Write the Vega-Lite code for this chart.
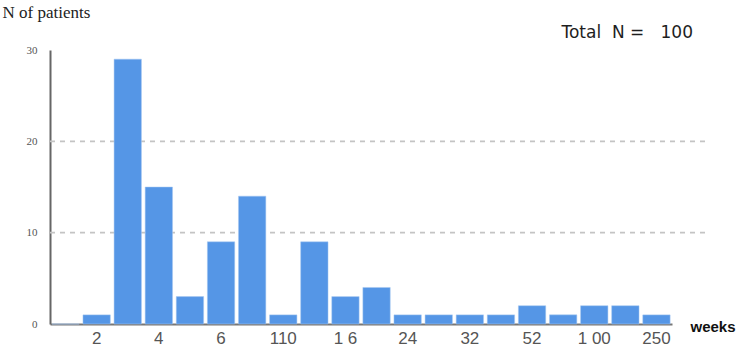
{
  "$schema": "https://vega.github.io/schema/vega-lite/v6.json",
  "width": 655,
  "height": 274,
  "autosize": {"type": "none"},
  "padding": {"left": 50, "top": 50, "right": 39, "bottom": 22},
  "background": "white",
  "title": {
    "text": "Total\u00a0 N =\u00a0\u00a0 100",
    "anchor": "end",
    "orient": "top",
    "frame": "group",
    "offset": 0,
    "dy": 39,
    "dx": -12,
    "font": "DejaVu Sans",
    "fontSize": 17,
    "fontWeight": "normal",
    "color": "#1e1e1e"
  },
  "layer": [
    {
      "data": {"values": [{"g": 10}, {"g": 20}]},
      "mark": {"type": "rule", "color": "#c4c4c4", "strokeDash": [5, 5], "strokeWidth": 1.6},
      "encoding": {
        "y": {"field": "g", "type": "quantitative"}
      }
    },
    {
      "data": {
        "values": [
          {"bin": 1, "count": 0},
          {"bin": 2, "count": 1},
          {"bin": 3, "count": 29},
          {"bin": 4, "count": 15},
          {"bin": 5, "count": 3},
          {"bin": 6, "count": 9},
          {"bin": 7, "count": 14},
          {"bin": 8, "count": 1},
          {"bin": 9, "count": 9},
          {"bin": 10, "count": 3},
          {"bin": 11, "count": 4},
          {"bin": 12, "count": 1},
          {"bin": 13, "count": 1},
          {"bin": 14, "count": 1},
          {"bin": 15, "count": 1},
          {"bin": 16, "count": 2},
          {"bin": 17, "count": 1},
          {"bin": 18, "count": 2},
          {"bin": 19, "count": 2},
          {"bin": 20, "count": 1}
        ]
      },
      "mark": {"type": "bar", "color": "#5596e6", "stroke": "#a9c8f0", "strokeWidth": 0.5},
      "encoding": {
        "x": {
          "field": "bin",
          "type": "ordinal",
          "sort": "ascending",
          "scale": {"range": [0, 622], "paddingInner": 0.12, "paddingOuter": 0.06},
          "axis": {
            "title": "weeks",
            "titleFont": "Liberation Sans",
            "titleFontSize": 15,
            "titleFontWeight": "bold",
            "titleColor": "#111111",
            "titleAnchor": "start",
            "titleAlign": "left",
            "titleBaseline": "middle",
            "titleX": 640,
            "titleY": 2,
            "labelAngle": 0,
            "labelFont": "Liberation Sans",
            "labelFontSize": 17,
            "labelColor": "#555555",
            "labelPadding": 6,
            "labelExpr": "{'2':'2','4':'4','6':'6','8':'110','10':'1 6','12':'24','14':'32','16':'52','18':'1 00','20':'250'}[datum.label] || ''",
            "ticks": false,
            "domainColor": "#777777",
            "domainWidth": 2
          }
        },
        "y": {
          "field": "count",
          "type": "quantitative",
          "scale": {"domain": [0, 30], "nice": false},
          "axis": {
            "values": [0, 10, 20, 30],
            "title": "N of patients",
            "titleAngle": 0,
            "titleAlign": "left",
            "titleBaseline": "middle",
            "titleX": -48,
            "titleY": -38,
            "titleFont": "Liberation Serif",
            "titleFontSize": 17,
            "titleFontWeight": "normal",
            "titleColor": "#222222",
            "labelFont": "Liberation Serif",
            "labelFontSize": 11,
            "labelColor": "#555555",
            "labelPadding": 13,
            "ticks": false,
            "grid": false,
            "domainColor": "#666666",
            "domainWidth": 2
          }
        }
      }
    }
  ],
  "config": {
    "view": {"stroke": null}
  }
}
